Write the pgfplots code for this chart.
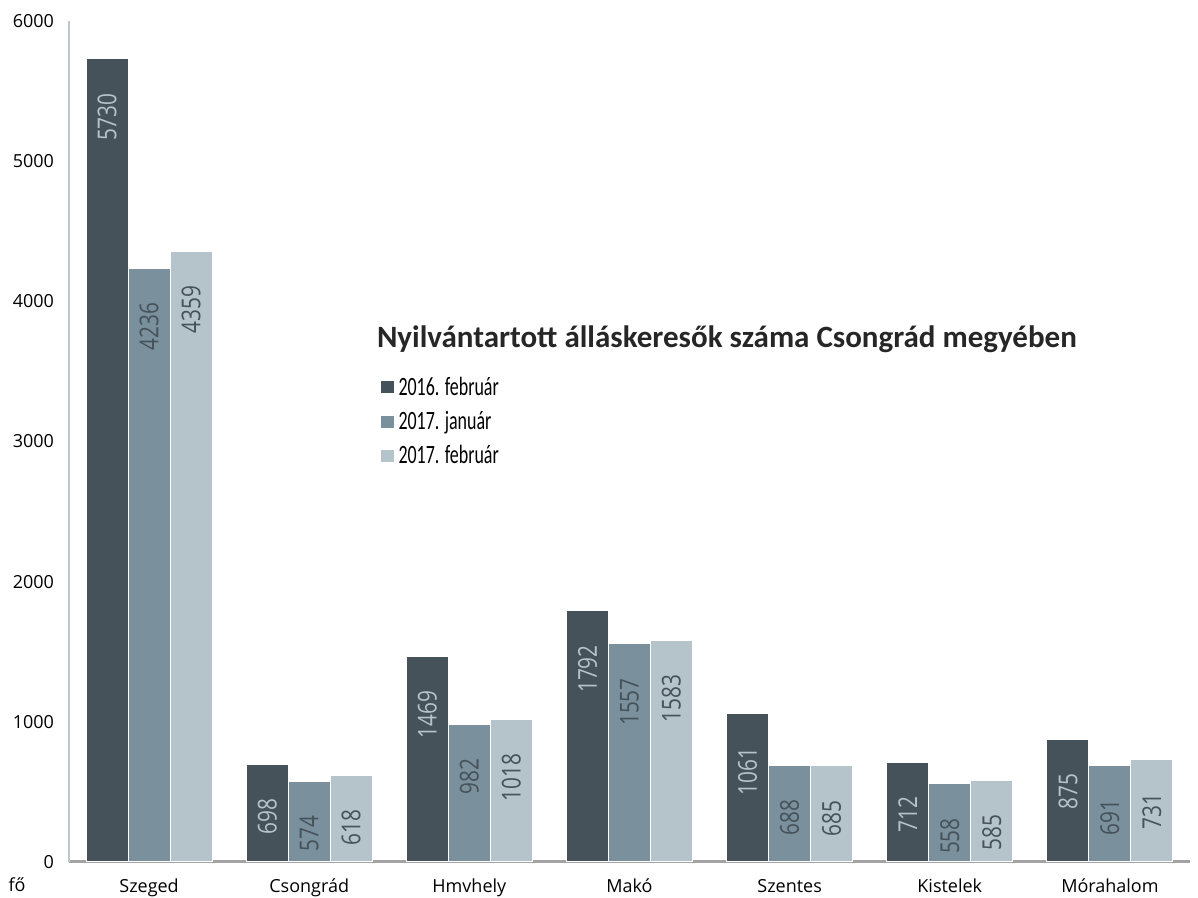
\documentclass[border=0pt]{standalone}
\usepackage{fontspec}
\setmainfont{Open Sans}
\newfontfamily\condfont[FakeStretch=0.68]{Carlito}
\newfontfamily\titlefont{Carlito}
\newfontfamily\labfont[FakeStretch=0.8]{Open Sans}
\usepackage{pgfplots}
\pgfplotsset{compat=1.18}
\definecolor{c1}{HTML}{46525A}
\definecolor{c2}{HTML}{7A909C}
\definecolor{c3}{HTML}{B5C3CA}
\definecolor{yaxcol}{HTML}{BCC8CE}
\definecolor{xaxcol}{HTML}{A3A3A3}
\begin{document}
\begin{tikzpicture}
\begin{axis}[
  scale only axis, width=560.5pt, height=420.5pt,
  ybar=0pt, bar width=0.262,
  xmin=-0.5, xmax=6.5, ymin=0, ymax=6000,
  xtick=data,
  xticklabels={Szeged,Csongrád,Hmvhely,Makó,Szentes,Kistelek,Mórahalom},
  ytick={0,1000,...,6000},
  axis x line*=bottom, axis y line*=left,
  x axis line style={xaxcol, line width=1.5pt},
  y axis line style={yaxcol, line width=1pt},
  major tick length=0pt,
  tick label style={font=\fontsize{9}{10}\selectfont},
  xticklabel style={yshift=-5pt},
  yticklabel style={xshift=-4pt},
  /pgf/number format/assume math mode=true,
  /pgf/number format/1000 sep={},
  clip=false,
  nodes near coords,
  every node near coord/.append style={rotate=90, anchor=east, inner xsep=17pt, font=\labfont\fontsize{13}{14}\selectfont},
  legend style={at={(rel axis cs:0.272,0.587)}, anchor=north west, draw=none, fill=none,
    font=\condfont\fontsize{13.2}{15}\selectfont, row sep=2.5pt},
  legend cell align=left,
  legend image code/.code={\draw[#1] (0pt,-3.3pt) rectangle (6.6pt,3.3pt);},
]
\addplot[fill=c1, draw=white, line width=0.5pt, every node near coord/.append style={text=c3}]
  coordinates {(0,5730) (1,698) (2,1469) (3,1792) (4,1061) (5,712) (6,875)};
\addplot[fill=c2, draw=white, line width=0.5pt, every node near coord/.append style={text=c1}]
  coordinates {(0,4236) (1,574) (2,982) (3,1557) (4,688) (5,558) (6,691)};
\addplot[fill=c3, draw=white, line width=0.5pt, every node near coord/.append style={text=c1}]
  coordinates {(0,4359) (1,618) (2,1018) (3,1583) (4,685) (5,585) (6,731)};
\legend{2016. február, 2017. január, 2017. február}
\node[anchor=west, font=\titlefont\bfseries\fontsize{15.5}{18}\selectfont, text=black!85]
  at (rel axis cs:0.2685,0.621) {Nyilvántartott álláskeresők száma Csongrád megyében};
\node[font=\fontsize{9}{10}\selectfont] at ([shift={(-26pt,-11.5pt)}]rel axis cs:0,0) {fő};
\coordinate (ll) at (rel axis cs:0,0);
\coordinate (ur) at (rel axis cs:1,1);
\end{axis}
\pgfresetboundingbox
\path ([shift={(-34.5pt,-18pt)}]ll) rectangle ([shift={(4pt,10.5pt)}]ur);
\end{tikzpicture}
\end{document}
